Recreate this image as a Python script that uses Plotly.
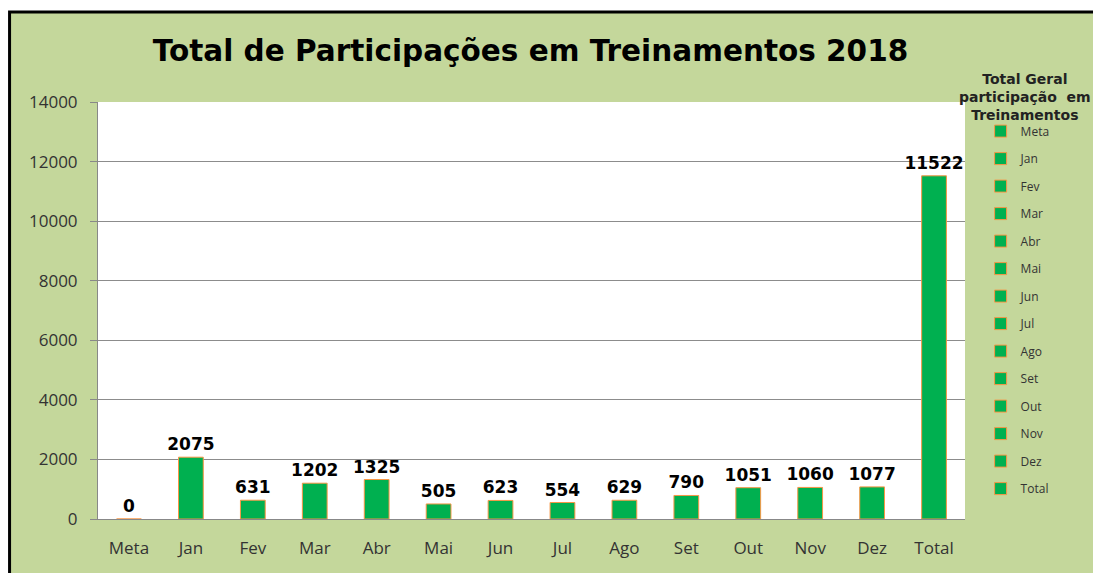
import plotly.graph_objects as go

categorias = ["Meta", "Jan", "Fev", "Mar", "Abr", "Mai", "Jun", "Jul", "Ago", "Set", "Out", "Nov", "Dez", "Total"]
participacoes = [0, 2075, 631, 1202, 1325, 505, 623, 554, 629, 790, 1051, 1060, 1077, 11522]
y_ticks = [0, 2000, 4000, 6000, 8000, 10000, 12000, 14000]

verde = "#00b050"
laranja = "#f79646"
fundo = "#c4d79b"

fig = go.Figure()
for cat, val in zip(categorias, participacoes):
    fig.add_trace(go.Bar(
        x=[cat], y=[val], name=cat, legendgroup=cat,
        width=0.4,
        marker=dict(color=verde, line=dict(color=laranja, width=1)),
        text=[str(val)], textposition="outside", constraintext="none",
        textfont=dict(family="DejaVu Sans", size=17, color="black", weight="bold"),
        cliponaxis=False,
    ))

# a pagina tem 8px de margem no body, por isso 1093x565
fig.update_layout(
    width=1093, height=565,
    margin=dict(l=90, r=136, t=94, b=54, autoexpand=False),
    paper_bgcolor="white",
    plot_bgcolor="white",
    barmode="overlay",
    title=dict(
        text="<b>Total de Participações em Treinamentos 2018</b>",
        x=0.478, xanchor="center", y=0.925, yanchor="middle",
        font=dict(family="DejaVu Sans", size=29.5, color="black"),
    ),
    legend=dict(
        x=1.018, xanchor="left", y=0.965, yanchor="top",
        font=dict(family="Open Sans", size=12, color="#333"),
        tracegroupgap=8.5,
        bgcolor="rgba(0,0,0,0)",
        maxheight=600,
    ),
    annotations=[
        dict(text="<b>Total Geral<br>participação  em<br>Treinamentos</b>",
             xref="paper", yref="paper", x=1.069, y=1.012, xanchor="center", yanchor="middle",
             showarrow=False, font=dict(family="DejaVu Sans", size=14, color="#222")),
    ],
    shapes=[
        dict(type="rect", xref="paper", yref="paper", x0=-0.102, x1=1.3, y0=-0.3, y1=1.216,
             fillcolor=fundo, line=dict(color="black", width=3), layer="below"),
        dict(type="rect", xref="x domain", yref="y domain", x0=0, x1=1, y0=0, y1=1,
             fillcolor="white", line=dict(width=0), layer="below"),
    ],
)
fig.update_xaxes(
    categoryorder="array", categoryarray=categorias,
    showline=True, linecolor="#888", linewidth=1,
    tickfont=dict(family="Open Sans", size=17, color="#333"),
    ticks="", showgrid=False, ticklabelstandoff=14,
)
fig.update_yaxes(
    range=[0, 14000], tickvals=y_ticks, ticktext=[str(v) for v in y_ticks],
    showline=True, linecolor="#888", linewidth=1,
    gridcolor="#8c8c8c", gridwidth=1,
    ticks="outside", ticklen=7, tickcolor="#888",
    tickfont=dict(family="Open Sans", size=17, color="#333"),
    ticklabelstandoff=9,
    zeroline=False,
)

fig.write_html("out.html")
